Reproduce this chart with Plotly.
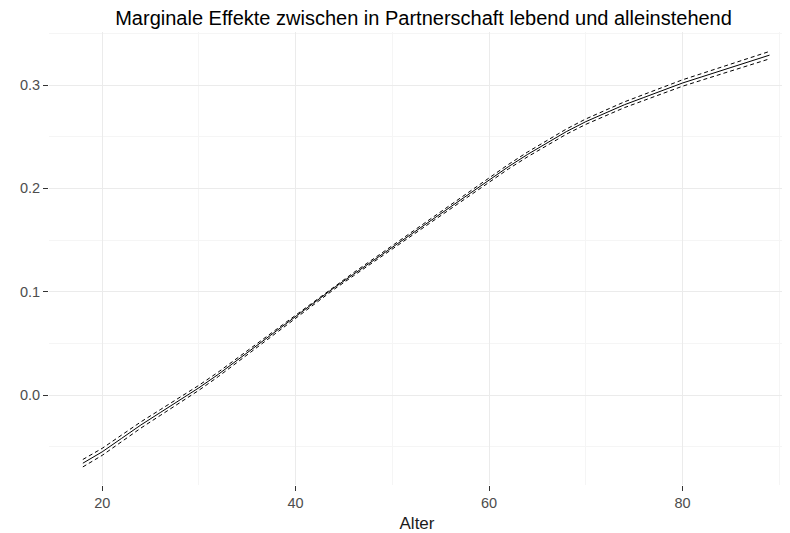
import plotly.graph_objects as go

# Data
alter = [18, 20, 22, 24, 26, 28, 30, 32, 34, 36, 38, 40, 42, 44, 46, 48, 50, 52, 54,
         56, 58, 60, 62, 64, 66, 68, 70, 72, 74, 76, 78, 80, 82, 84, 86, 88, 89]
effekt = [-0.066, -0.055, -0.042, -0.029, -0.017, -0.005, 0.007, 0.020, 0.034, 0.048,
          0.062, 0.076, 0.090, 0.104, 0.117, 0.130, 0.143, 0.156, 0.169, 0.182, 0.195,
          0.208, 0.221, 0.233, 0.244, 0.255, 0.2646, 0.273, 0.281, 0.288, 0.295, 0.302,
          0.308, 0.314, 0.320, 0.326, 0.329]
ci_halb = [0.0036, 0.0034, 0.0032, 0.0030, 0.0028, 0.0026, 0.0024, 0.0022, 0.0020, 0.0018,
           0.0017, 0.0016, 0.0015, 0.0015, 0.0015, 0.0015, 0.0016, 0.0017, 0.0018, 0.0019,
           0.0020, 0.0021, 0.0022, 0.0023, 0.0024, 0.0025, 0.0026, 0.0027, 0.0028, 0.0029,
           0.0030, 0.0031, 0.0032, 0.0033, 0.0034, 0.0035, 0.0036]

x_ticks = [20, 40, 60, 80]
y_ticks = [0.0, 0.1, 0.2, 0.3]
y_tick_labels = ["0.0", "0.1", "0.2", "0.3"]

oben = [e + c for e, c in zip(effekt, ci_halb)]
unten = [e - c for e, c in zip(effekt, ci_halb)]

fig = go.Figure()
fig.add_trace(go.Scatter(x=alter, y=oben, mode="lines",
                         line=dict(color="black", width=1, dash="4px,3px"), showlegend=False))
fig.add_trace(go.Scatter(x=alter, y=unten, mode="lines",
                         line=dict(color="black", width=1, dash="4px,3px"), showlegend=False))
fig.add_trace(go.Scatter(x=alter, y=effekt, mode="lines",
                         line=dict(color="black", width=1), showlegend=False))

font_fam = "Liberation Sans, Arial, sans-serif"
fig.update_layout(
    width=790, height=533,
    margin=dict(l=35, r=13, t=24, b=56),
    paper_bgcolor="white", plot_bgcolor="white",
    font=dict(family=font_fam, color="#4D4D4D"),
    title=dict(text="Marginale Effekte zwischen in Partnerschaft lebend und alleinstehend",
               x=0.526, xanchor="center", y=1 - 10 / 533, yanchor="middle", yref="container",
               font=dict(size=20, color="black", family=font_fam)),
    xaxis=dict(range=[14.5, 90.6], tickvals=x_ticks, ticks="outside", ticklen=5,
               tickcolor="#333333", tickwidth=1, showline=False, zeroline=False,
               gridcolor="#EBEBEB", gridwidth=1,
               minor=dict(dtick=10, tick0=0, showgrid=True, gridcolor="#F5F5F5", gridwidth=1, ticks=""),
               tickfont=dict(size=14.5, color="#4D4D4D"),
               title=dict(text="Alter", font=dict(size=17, color="#1A1A1A"), standoff=6)),
    yaxis=dict(range=[-0.0871, 0.3514], tickvals=y_ticks, ticktext=y_tick_labels,
               ticks="outside", ticklen=5, tickcolor="#333333", tickwidth=1,
               showline=False, zeroline=False, gridcolor="#EBEBEB", gridwidth=1,
               minor=dict(dtick=0.05, tick0=0, showgrid=True, gridcolor="#F5F5F5", gridwidth=1, ticks=""),
               tickfont=dict(size=14.5, color="#4D4D4D")),
)

fig.write_html("out.html")
